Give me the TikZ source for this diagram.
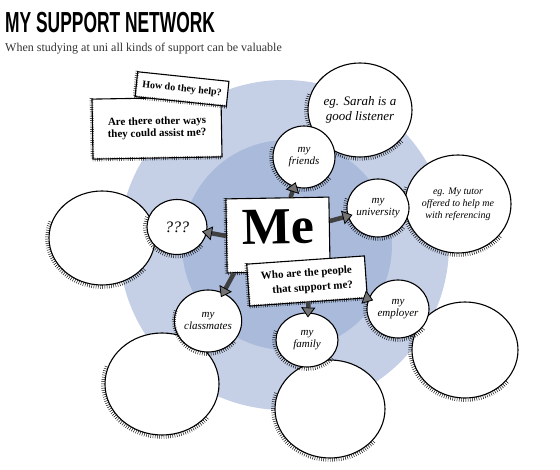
\documentclass[tikz,border=0pt]{standalone}
\usepackage{fontspec}
\setmainfont{Liberation Serif}
\newfontfamily\titlefont[FakeStretch=0.6]{Liberation Sans}
\usetikzlibrary{arrows.meta,shapes.geometric,decorations.pathreplacing}
\definecolor{outerblue}{HTML}{C5D0E7}
\definecolor{innerblue}{HTML}{A9BADB}
\tikzset{
  bubble/.style={ellipse, draw, line width=1.1pt, fill=white, inner sep=0pt, align=center, font=\itshape\fontsize{11}{12}\selectfont},
  note/.style={draw, line width=1.1pt, fill=white, align=right, inner xsep=6pt, inner ysep=4pt, font=\bfseries\fontsize{11}{12}\selectfont},
  hatch/.style={decorate, decoration={ticks, segment length=2.2pt, amplitude=1.8pt}, line width=0.45pt},
  push/.style={draw=black!75, line width=4.5pt, shorten >=-5pt, -{Triangle[length=10pt, width=14pt, line width=0.8pt, color=black, fill=black!55]}}
}
\begin{document}
\begin{tikzpicture}[x=1pt, y=-1pt]
  \useasboundingbox (0,0) rectangle (560,470);
  \node[anchor=base west, inner sep=0pt, font=\titlefont\bfseries\fontsize{29}{29}\selectfont] (title) at (5,33) {MY SUPPORT NETWORK};
  \node[anchor=base west, inner sep=0pt, text=black!80, font=\fontsize{12}{14}\selectfont] (sub) at (5,52) {When studying at uni all kinds of support can be valuable};

  % rings
  \fill[outerblue] (284,245) circle[radius=165];
  \fill[innerblue] (287,245) circle[radius=105];

  % empty and example bubbles
  \node[bubble, minimum width=106, minimum height=94] (bigL) at (102,238) {};
  \node[bubble, minimum width=114, minimum height=102] (bigBL) at (162,384) {};
  \node[bubble, minimum width=110, minimum height=98] (bigB) at (330,409) {};
  \node[bubble, minimum width=106, minimum height=96] (bigR) at (465,350) {};
  \node[bubble, minimum width=104, minimum height=94, font=\itshape\fontsize{13}{15}\selectfont] (sarah) at (360,110) {eg. Sarah is a\\good listener};
  \node[bubble, minimum width=106, minimum height=98, font=\itshape\fontsize{10}{12}\selectfont] (tutor) at (458,204) {eg. My tutor\\offered to help me\\with referencing};
  \foreach \n/\rx/\ry in {bigL/53/47, bigBL/57/51, bigB/55/49, bigR/53/48, sarah/52/47, tutor/53/49}
    \draw[hatch] (\n.center) ++(40:{\rx+2} and {\ry+2}) arc[start angle=40, end angle=200, x radius=\rx+2, y radius=\ry+2];

  % who they are
  \node[bubble, minimum width=60, minimum height=55, font=\itshape\fontsize{16}{16}\selectfont] (unk) at (177,227) {???};
  \node[bubble, minimum width=62, minimum height=62] (fr) at (304,157) {my\\friends};
  \node[bubble, minimum width=62, minimum height=58] (uni) at (378,208) {my\\university};
  \node[bubble, minimum width=64, minimum height=62] (cls) at (208,321) {my\\classmates};
  \node[bubble, minimum width=62, minimum height=54] (fam) at (307,340) {my\\family};
  \node[bubble, minimum width=62, minimum height=58] (emp) at (398,309) {my\\employer};
  \foreach \n/\rx/\ry in {unk/30/27.5, fr/31/31, uni/31/29, cls/32/31, fam/31/27, emp/31/29}
    \draw[hatch] (\n.center) ++(40:{\rx+2} and {\ry+2}) arc[start angle=40, end angle=200, x radius=\rx+2, y radius=\ry+2];

  % centre
  \node[note, minimum width=103, minimum height=74, rotate=1, text depth=16pt, font=\bfseries\fontsize{52}{52}\selectfont] (me) at (278,235) {Me};
  \draw[hatch] (me.north west) -- (me.south west) -- (me.south east);
  \draw[push] (me.west) -- (unk);
  \draw[push] (me) -- (fr);
  \draw[push] (me) -- (uni);
  \draw[push] (me.220) -- (cls);

  \node[note, minimum width=118, minimum height=42, rotate=4, font=\bfseries\fontsize{11}{15}\selectfont] (who) at (307,281) {Who are the people\\that support me?};
  \draw[hatch] (who.north west) -- (who.south west) -- (who.south east);
  \draw[push] (who.south) -- (fam);
  \draw[push] (who.-20) -- (emp);

  % questions
  \node[note, minimum width=129, minimum height=60, rotate=1] (other) at (157,128) {Are there other ways\\they could assist me?};
  \draw[hatch] (other.north west) -- (other.south west) -- (other.south east);
  \node[note, minimum width=90, minimum height=25, rotate=-6, font=\bfseries\fontsize{10}{12}\selectfont] (how) at (182,89) {How do they help?};
  \draw[hatch] (how.north west) -- (how.south west) -- (how.south east);
\end{tikzpicture}
\end{document}
